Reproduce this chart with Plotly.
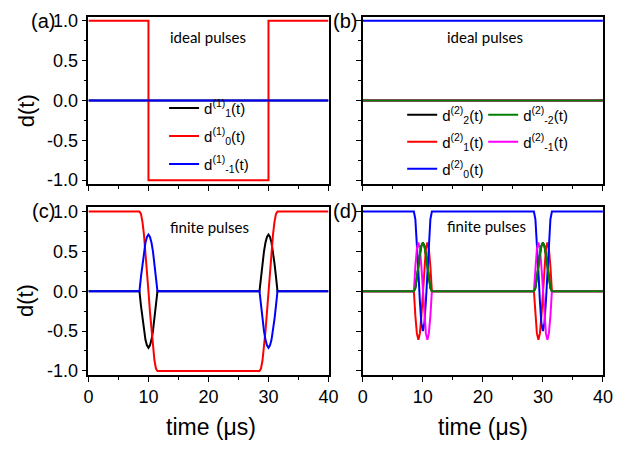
import plotly.graph_objects as go

# ---------------- data ----------------
IDEAL_T = [0, 10, 10, 30, 30, 40]
A_D1 = [0, 0, 0, 0, 0, 0]
A_D0 = [1, 1, -1, -1, 1, 1]
A_DM1 = [0, 0, 0, 0, 0, 0]

B_D2 = [0, 0, 0, 0, 0, 0]
B_D1 = [0, 0, 0, 0, 0, 0]
B_D0 = [1, 1, 1, 1, 1, 1]
B_DM1 = [0, 0, 0, 0, 0, 0]
B_DM2 = [0, 0, 0, 0, 0, 0]

T_START = [0]
T_END = [40]
PULSE1_T = [8.5, 8.75, 9.0, 9.25, 9.5, 9.75, 10.0, 10.25, 10.5, 10.75, 11.0, 11.25, 11.5]
PULSE2_T = [28.5, 28.75, 29.0, 29.25, 29.5, 29.75, 30.0, 30.25, 30.5, 30.75, 31.0, 31.25, 31.5]

# panel (c): spin-1, finite pulses
C_D1_P1 = [0.0, -0.18, -0.35, -0.50, -0.61, -0.68, -0.71, -0.68, -0.61, -0.50, -0.35, -0.18, 0.0]
C_D1_P2 = [0.0, 0.18, 0.35, 0.50, 0.61, 0.68, 0.71, 0.68, 0.61, 0.50, 0.35, 0.18, 0.0]
C_D0_P1 = [1.0, 0.97, 0.87, 0.71, 0.50, 0.26, 0.0, -0.26, -0.50, -0.71, -0.87, -0.97, -1.0]
C_D0_P2 = [-1.0, -0.97, -0.87, -0.71, -0.50, -0.26, 0.0, 0.26, 0.50, 0.71, 0.87, 0.97, 1.0]
C_DM1_P1 = [0.0, 0.18, 0.35, 0.50, 0.61, 0.68, 0.71, 0.68, 0.61, 0.50, 0.35, 0.18, 0.0]
C_DM1_P2 = [0.0, -0.18, -0.35, -0.50, -0.61, -0.68, -0.71, -0.68, -0.61, -0.50, -0.35, -0.18, 0.0]

# panel (d): spin-2, finite pulses (same shape in both pulses)
D_D2_P = [0.0, 0.04, 0.15, 0.31, 0.46, 0.57, 0.61, 0.57, 0.46, 0.31, 0.15, 0.04, 0.0]
D_D1_P = [0.0, -0.31, -0.53, -0.61, -0.53, -0.31, 0.0, 0.31, 0.53, 0.61, 0.53, 0.31, 0.0]
D_D0_P = [1.0, 0.90, 0.63, 0.25, -0.13, -0.40, -0.50, -0.40, -0.13, 0.25, 0.63, 0.90, 1.0]
D_DM1_P = [0.0, 0.31, 0.53, 0.61, 0.53, 0.31, 0.0, -0.31, -0.53, -0.61, -0.53, -0.31, 0.0]
D_DM2_P = [0.0, 0.04, 0.15, 0.31, 0.46, 0.57, 0.61, 0.57, 0.46, 0.31, 0.15, 0.04, 0.0]

Y_TICK_VALS = [-1.0, -0.5, 0.0, 0.5, 1.0]
Y_TICK_LABELS = ["-1.0", "-0.5", "0.0", "0.5", "1.0"]
Y_MINOR_VALS = [-0.75, -0.25, 0.25, 0.75]
X_TICK_VALS = [0, 10, 20, 30, 40]
X_TICK_LABELS = ["0", "10", "20", "30", "40"]
X_MINOR_VALS = [5, 15, 25, 35]

PANEL_LABELS = ["(a)", "(b)", "(c)", "(d)"]
PANEL_NOTES = ["ideal pulses", "ideal pulses", "finite pulses", "finite pulses"]

NAMES1 = ["d<sup>(1)</sup><sub>1</sub>(t)", "d<sup>(1)</sup><sub>0</sub>(t)", "d<sup>(1)</sup><sub>-1</sub>(t)"]
NAMES2 = ["d<sup>(2)</sup><sub>2</sub>(t)", "d<sup>(2)</sup><sub>1</sub>(t)", "d<sup>(2)</sup><sub>0</sub>(t)",
          "d<sup>(2)</sup><sub>-1</sub>(t)", "d<sup>(2)</sup><sub>-2</sub>(t)"]

BLACK, RED, BLUE, MAGENTA, GREEN = "#000000", "#ff0000", "#0000ff", "#ff00ff", "#008000"
LW = 2
W, H = 622, 450

def series(p1, p2):
    return [p1[0]] + p1 + p2 + [p2[-1]]

T_FULL = T_START + PULSE1_T + PULSE2_T + T_END

fig = go.Figure()

# panel (a)
for i, (name, ys, col) in enumerate(zip(NAMES1, [A_D1, A_D0, A_DM1], [BLACK, RED, BLUE])):
    fig.add_trace(go.Scatter(x=IDEAL_T, y=ys, mode="lines", name=name, legendgroup="a%d" % i,
                             line=dict(color=col, width=LW), xaxis="x", yaxis="y",
                             legend="legend"))
# panel (b)
b_specs = [(NAMES2[0], B_D2, BLACK, "legend2", 1), (NAMES2[1], B_D1, RED, "legend2", 2),
           (NAMES2[2], B_D0, BLUE, "legend2", 3), (NAMES2[3], B_DM1, MAGENTA, "legend3", 2),
           (NAMES2[4], B_DM2, GREEN, "legend3", 1)]
for i, (name, ys, col, lg, rk) in enumerate(b_specs):
    fig.add_trace(go.Scatter(x=IDEAL_T, y=ys, mode="lines", name=name, legendrank=rk,
                             legendgroup="b%d" % i,
                             line=dict(color=col, width=LW), xaxis="x2", yaxis="y2",
                             legend=lg))
# panel (c)
for ys, col in [(series(C_D1_P1, C_D1_P2), BLACK), (series(C_D0_P1, C_D0_P2), RED),
                (series(C_DM1_P1, C_DM1_P2), BLUE)]:
    fig.add_trace(go.Scatter(x=T_FULL, y=ys, mode="lines", showlegend=False,
                             line=dict(color=col, width=LW), xaxis="x3", yaxis="y3"))
# panel (d)
for ys, col in [(series(D_D2_P, D_D2_P), BLACK), (series(D_D1_P, D_D1_P), RED),
                (series(D_D0_P, D_D0_P), BLUE), (series(D_DM1_P, D_DM1_P), MAGENTA),
                (series(D_DM2_P, D_DM2_P), GREEN)]:
    fig.add_trace(go.Scatter(x=T_FULL, y=ys, mode="lines", showlegend=False,
                             line=dict(color=col, width=LW), xaxis="x4", yaxis="y4"))

FONT = "Liberation Sans, Arial, sans-serif"
XL = [85.5 / W, 331.5 / W]
XR = [366.7 / W, 612.7 / W]
YT = [1 - 183.0 / H, 1 - 11.0 / H]
YB = [1 - 379.0 / H, 1 - 207.0 / H]

def xax(domain, anchor, labels):
    return dict(domain=domain, anchor=anchor, range=[0, 40], showgrid=False, zeroline=False,
                showline=True, linecolor="black", linewidth=1.5, mirror=True,
                ticks="outside", ticklen=5, tickwidth=1.2, tickcolor="black",
                tickmode="array", tickvals=X_TICK_VALS, ticktext=X_TICK_LABELS,
                showticklabels=labels, tickfont=dict(family=FONT, size=18, color="black"),
                minor=dict(ticks="outside", ticklen=3, tickwidth=1.2, tickcolor="black",
                           tickmode="array", tickvals=X_MINOR_VALS))

def yax(domain, anchor, labels):
    return dict(domain=domain, anchor=anchor, range=[-1.05, 1.05], showgrid=False, zeroline=False,
                showline=True, linecolor="black", linewidth=1.5, mirror=True,
                ticks="outside", ticklen=5, tickwidth=1.2, tickcolor="black",
                tickmode="array", tickvals=Y_TICK_VALS, ticktext=Y_TICK_LABELS,
                showticklabels=labels, tickfont=dict(family=FONT, size=18, color="black"),
                minor=dict(ticks="outside", ticklen=3, tickwidth=1.2, tickcolor="black",
                           tickmode="array", tickvals=Y_MINOR_VALS))

legfont = dict(family=FONT, size=15, color="black")
leg_common = dict(font=legfont, bgcolor="rgba(0,0,0,0)", borderwidth=0,
                  xanchor="left", yanchor="top", orientation="v")

fig.update_layout(
    width=W, height=H, margin=dict(l=0, r=0, t=0, b=0),
    paper_bgcolor="white", plot_bgcolor="white",
    xaxis=xax(XL, "y", False), yaxis=yax(YT, "x", True),
    xaxis2=xax(XR, "y2", False), yaxis2=yax(YT, "x2", False),
    xaxis3=xax(XL, "y3", True), yaxis3=yax(YB, "x3", True),
    xaxis4=xax(XR, "y4", True), yaxis4=yax(YB, "x4", False),
    legend=dict(x=163 / W, y=1 - 88 / H, tracegroupgap=5.5, **leg_common),
    legend2=dict(x=407 / W, y=1 - 95 / H, tracegroupgap=4.5, **leg_common),
    legend3=dict(x=490 / W, y=1 - 95 / H, tracegroupgap=4.5, **leg_common),
)

ann = []
# panel labels
for txt, (px, py) in zip(PANEL_LABELS, [(39, 15), (348, 15), (39, 211), (348, 211)]):
    ann.append(dict(text=txt, x=px / W, y=1 - py / H, xref="paper", yref="paper",
                    showarrow=False, xanchor="center", yanchor="middle",
                    font=dict(family=FONT, size=20, color="black")))
# notes
for txt, (px, py) in zip(PANEL_NOTES, [(208.5, 31.7), (492, 31.7), (209.7, 226.7), (493, 226)]):
    ann.append(dict(text=txt, x=px / W, y=1 - py / H, xref="paper", yref="paper",
                    showarrow=False, xanchor="center", yanchor="middle",
                    font=dict(family="Lato, sans-serif", size=15, color="black")))
# axis titles
for py in [108, 303]:
    ann.append(dict(text="d(t)", x=21.7 / W, y=1 - py / H, xref="paper", yref="paper",
                    showarrow=False, xanchor="center", yanchor="middle", textangle=-90,
                    font=dict(family=FONT, size=22, color="black")))
for px in [211, 490]:
    ann.append(dict(text="time (μs)", x=px / W, y=1 - 433 / H, xref="paper", yref="paper",
                    showarrow=False, xanchor="center", yanchor="middle",
                    font=dict(family=FONT, size=23, color="black")))
fig.update_layout(annotations=ann)

fig.write_html("out.html")
